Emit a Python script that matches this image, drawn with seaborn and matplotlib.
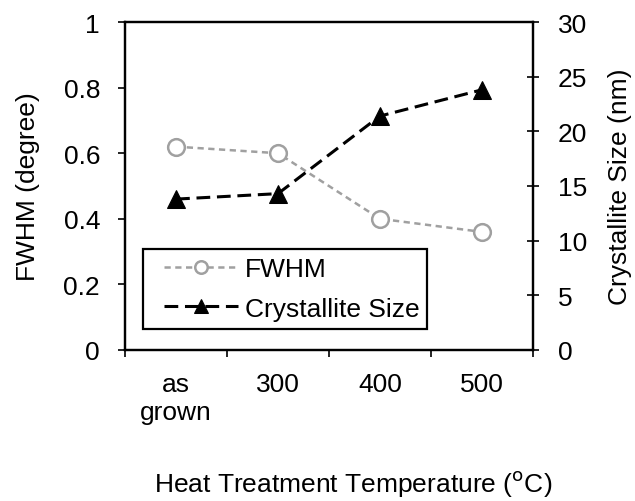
import matplotlib
matplotlib.use("Agg")
import matplotlib.pyplot as plt
import seaborn as sns
import pandas as pd
from matplotlib.ticker import FixedLocator, NullFormatter
from matplotlib.legend_handler import HandlerLine2D

categories = ["as\ngrown", "300", "400", "500"]
fwhm = [0.62, 0.60, 0.40, 0.36]
cryst_size = [13.8, 14.3, 21.4, 23.8]

sns.set_style("ticks")
plt.rcParams['font.family'] = ['Liberation Sans', 'DejaVu Sans']
plt.rcParams['font.size'] = 19
plt.rcParams['text.color'] = 'black'
plt.rcParams['xtick.color'] = 'black'
plt.rcParams['ytick.color'] = 'black'
plt.rcParams['axes.labelcolor'] = 'black'

FS = 19
df = pd.DataFrame({"cat": categories, "FWHM": fwhm, "Crystallite Size": cryst_size})

fig = plt.figure(figsize=(6.35, 5.02), dpi=100)
ax = fig.add_axes([0.197, 0.301, 0.642, 0.653])
ax2 = ax.twinx()

sns.lineplot(data=df, x="cat", y="FWHM", ax=ax, color="#a0a0a0", linewidth=1.8,
             marker="o", markersize=12, markerfacecolor="white", markeredgecolor="#a0a0a0",
             markeredgewidth=1.8, sort=False, label="FWHM", legend=False)
ax.lines[0].set_dashes([2.5, 1.8])
sns.lineplot(data=df, x="cat", y="Crystallite Size", ax=ax2, color="black", linewidth=2.2,
             marker="^", markersize=13, markerfacecolor="black", markeredgecolor="black",
             sort=False, label="Crystallite Size", legend=False)
ax2.lines[0].set_dashes([4.5, 2.2])

ax.set_xlim(-0.5, 3.5)
ax.set_ylim(0, 1)
ax2.set_ylim(0, 30)
ax.set_yticks([0, 0.2, 0.4, 0.6, 0.8, 1])
ax.set_yticklabels(["0", "0.2", "0.4", "0.6", "0.8", "1"])
ax2.set_yticks([0, 5, 10, 15, 20, 25, 30])

ax.set_xticks(range(len(categories)))
ax.set_xticklabels(categories, linespacing=1.2)
ax.xaxis.set_minor_locator(FixedLocator([-0.5, 0.5, 1.5, 2.5, 3.5]))
ax.xaxis.set_minor_formatter(NullFormatter())
ax.tick_params(axis="x", which="major", length=0, pad=16, labelsize=FS)
ax.tick_params(axis="x", which="minor", length=5, width=1.2, direction="out")
ax.tick_params(axis="y", length=5, width=1.2, direction="out", pad=13, labelsize=FS)
ax2.tick_params(axis="y", length=8, width=1.2, direction="inout", pad=14, labelsize=FS)

for a in (ax, ax2):
    for s in a.spines.values():
        s.set_linewidth(1.6)
        s.set_color("black")

ax.set_xlabel("Heat Treatment Temperature ($^{\\rm o}$C)", fontsize=FS)
ax.xaxis.set_label_coords(0.56, -0.36)
ax.set_ylabel("FWHM (degree)", fontsize=FS, labelpad=17)
ax2.set_ylabel("Crystallite Size (nm)", fontsize=FS, labelpad=15)


def small_marker(legline, orig):
    legline.update_from(orig)
    legline.set_markersize(orig.get_markersize() * 0.75)


h1, l1 = ax.get_legend_handles_labels()
h2, l2 = ax2.get_legend_handles_labels()
hm = {h: HandlerLine2D(xpad=0.5, update_func=small_marker) for h in h1 + h2}
leg = ax2.legend(h1 + h2, l1 + l2, loc="upper left", bbox_to_anchor=(0.044, 0.308),
                 frameon=True, fancybox=False, framealpha=1, edgecolor="black",
                 fontsize=FS, handlelength=3.3, handletextpad=0.25, borderpad=0.3,
                 labelspacing=0.6, borderaxespad=0, handler_map=hm)
leg.get_frame().set_linewidth(1.6)

fig.savefig("out.png", dpi=100)
